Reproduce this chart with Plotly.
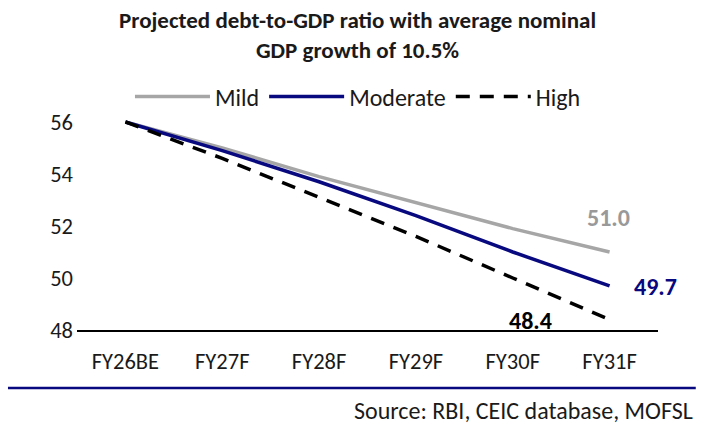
import plotly.graph_objects as go

categories = ["FY26BE", "FY27F", "FY28F", "FY29F", "FY30F", "FY31F"]
mild = [56.0, 55.0, 53.9, 52.9, 51.9, 51.0]
moderate = [56.0, 54.9, 53.7, 52.4, 51.0, 49.7]
high = [56.0, 54.6, 53.1, 51.6, 50.0, 48.4]
y_ticks = [48, 50, 52, 54, 56]

FONT = "Calibri, Carlito, Lato, sans-serif"
GRAY = "#A6A6A6"
NAVY = "#08087F"
BLACK = "#000000"
TXT = "#1A1A1A"

fig = go.Figure()
fig.add_trace(go.Scatter(x=categories, y=mild, name="Mild", mode="lines",
                         line=dict(color=GRAY, width=3.5)))
fig.add_trace(go.Scatter(x=categories, y=moderate, name="Moderate", mode="lines",
                         line=dict(color=NAVY, width=3.5)))
fig.add_trace(go.Scatter(x=categories, y=high, name="High", mode="lines",
                         line=dict(color=BLACK, width=3.5, dash="14px,10px")))

# end labels
fig.add_annotation(x=categories[-1], y=mild[-1], text=f"<b>{mild[-1]:.1f}</b>",
                   showarrow=False, xshift=-1, yshift=34,
                   font=dict(size=24, color="#999999", family=FONT))
fig.add_annotation(x=categories[-1], y=moderate[-1], text=f"<b>{moderate[-1]:.1f}</b>",
                   showarrow=False, xshift=46, yshift=-1,
                   font=dict(size=24, color=NAVY, family=FONT))
fig.add_annotation(x=categories[-1], y=high[-1], text=f"<b>{high[-1]:.1f}</b>",
                   showarrow=False, xshift=-79, yshift=-1,
                   font=dict(size=24, color=BLACK, family=FONT))

# title
fig.add_annotation(xref="paper", yref="paper", x=0.4836, y=1.343,
                   xanchor="center", yanchor="middle", showarrow=False,
                   text="<b>Projected debt-to-GDP ratio with average nominal<br>GDP growth of 10.5%</b>",
                   font=dict(size=23, color=TXT, family=FONT))

# source and separator
fig.add_shape(type="line", xref="paper", yref="paper",
              x0=-0.1188, x1=1.065, y0=-0.264, y1=-0.264,
              line=dict(color=NAVY, width=2.5))
fig.add_annotation(xref="paper", yref="paper", x=1.0637, y=-0.364,
                   xanchor="right", yanchor="middle", showarrow=False,
                   text="Source: RBI, CEIC database, MOFSL",
                   font=dict(size=24, color=TXT, family=FONT))

fig.update_layout(
    width=702, height=425,
    margin=dict(l=77, r=44, t=110, b=95),
    paper_bgcolor="white", plot_bgcolor="white",
    font=dict(family=FONT, size=22, color=TXT),
    showlegend=True,
    legend=dict(orientation="h", x=0.4836, xanchor="center", y=1.059, yanchor="middle",
                font=dict(size=24, family=FONT, color=TXT),
                itemwidth=75, bgcolor="rgba(0,0,0,0)"),
    xaxis=dict(range=[-0.5, 5.5], showline=True, linecolor=BLACK, linewidth=1.5,
               showgrid=False, zeroline=False, ticks="", ticklabelstandoff=10,
               tickfont=dict(size=22.5, family=FONT, color=TXT)),
    yaxis=dict(range=[48, 56.46], tickvals=y_ticks, showgrid=False, zeroline=False,
               showline=False, ticks="", ticklabelstandoff=3,
               tickfont=dict(size=22.5, family=FONT, color=TXT)),
)

fig.write_html("out.html")
